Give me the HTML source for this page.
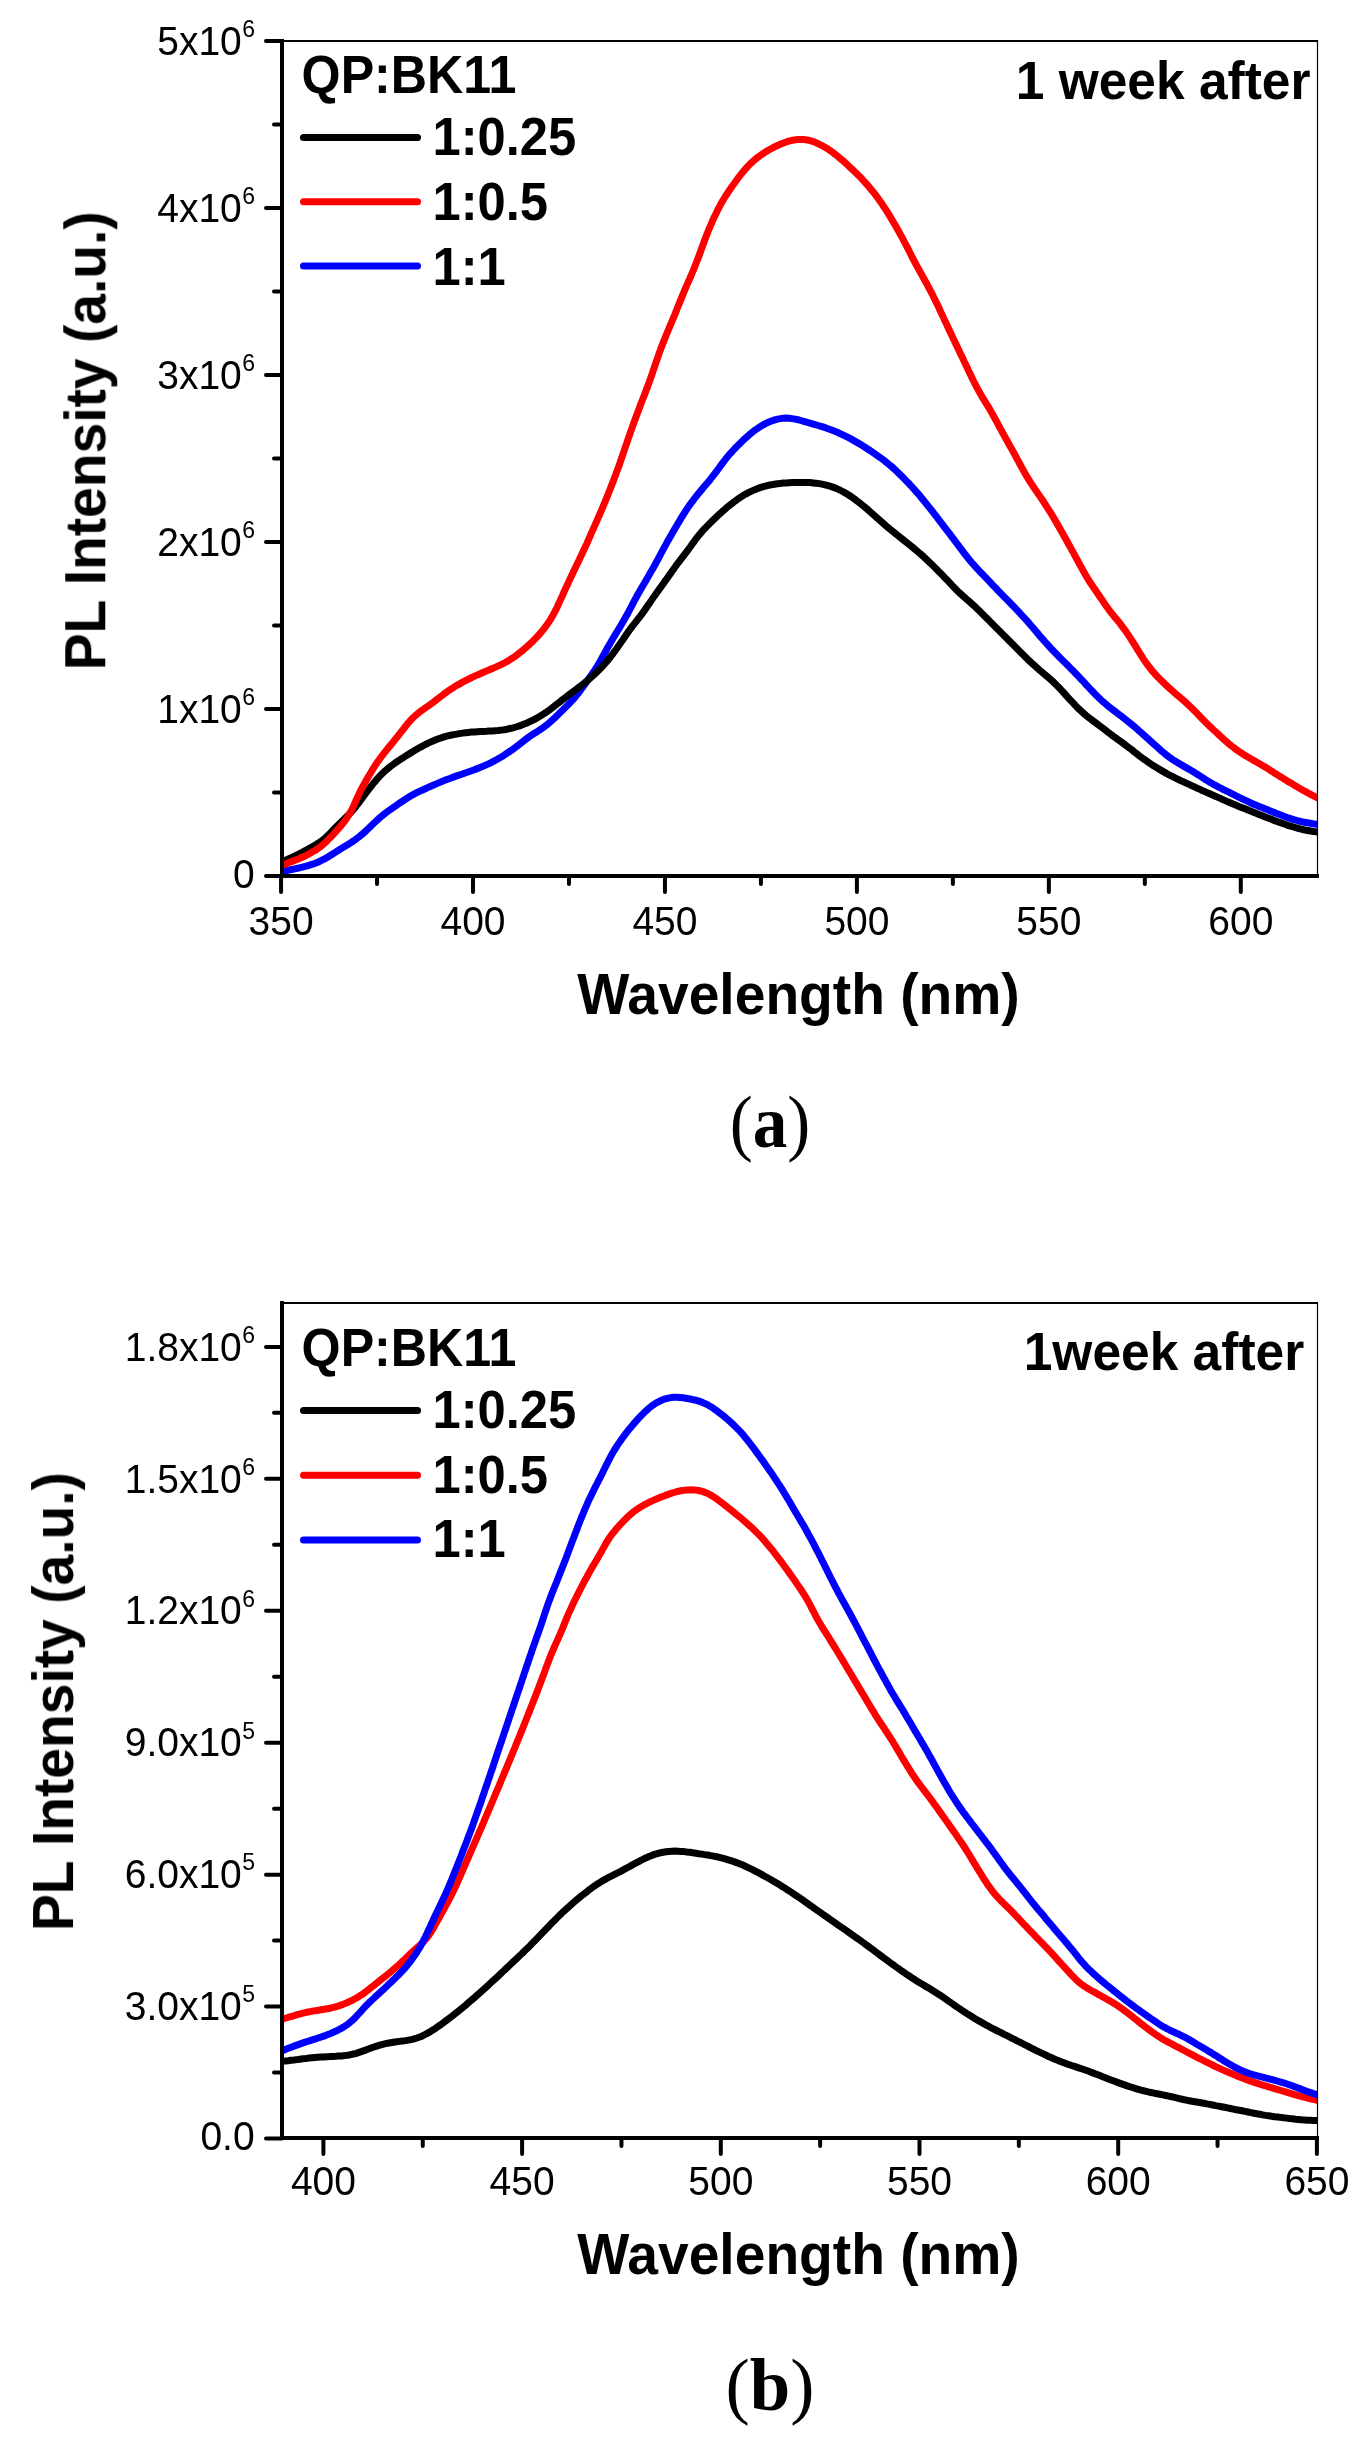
<!DOCTYPE html>
<html><head><meta charset="utf-8"><title>PL Intensity</title>
<style>html,body{margin:0;padding:0;background:#fff;}svg{display:block;}</style></head>
<body><svg width="1369" height="2453" viewBox="0 0 1369 2453">
<defs><filter id="gs" filterUnits="userSpaceOnUse" x="0" y="0" width="1369" height="2453" color-interpolation-filters="sRGB"><feColorMatrix type="saturate" values="0"/></filter></defs>
<rect width="1369" height="2453" fill="#fff"/>
<clipPath id="clipA"><rect x="282" y="41" width="1035.5" height="835"/></clipPath>
<clipPath id="clipB"><rect x="282" y="1303" width="1035.5" height="835"/></clipPath>
<g clip-path="url(#clipA)">
<path d="M282.0,871.8 L284.9,871.1 L287.8,870.4 L290.7,869.7 L293.6,869.1 L296.5,868.5 L299.4,867.8 L302.3,867.1 L305.2,866.4 L308.1,865.6 L311.0,864.7 L313.8,863.8 L316.6,862.7 L319.3,861.5 L322.0,860.2 L324.6,858.8 L327.2,857.4 L329.8,855.8 L332.3,854.2 L334.8,852.6 L337.4,851.0 L339.9,849.4 L342.5,847.8 L345.0,846.3 L347.6,844.7 L350.1,843.1 L352.6,841.5 L355.1,839.8 L357.5,838.0 L359.8,836.2 L362.1,834.3 L364.3,832.3 L366.5,830.3 L368.7,828.2 L370.9,826.1 L373.0,824.0 L375.2,822.0 L377.4,819.9 L379.6,817.9 L381.9,816.0 L384.2,814.1 L386.6,812.3 L389.0,810.5 L391.4,808.8 L393.9,807.1 L396.4,805.4 L398.8,803.7 L401.3,802.0 L403.8,800.3 L406.3,798.7 L408.9,797.1 L411.4,795.6 L414.0,794.1 L416.7,792.7 L419.4,791.4 L422.1,790.2 L424.8,789.0 L427.6,787.7 L430.3,786.5 L433.1,785.3 L435.8,784.1 L438.6,782.9 L441.3,781.8 L444.1,780.6 L446.9,779.5 L449.7,778.5 L452.5,777.4 L455.3,776.4 L458.2,775.4 L461.0,774.5 L463.8,773.5 L466.7,772.5 L469.5,771.5 L472.3,770.5 L475.1,769.4 L477.9,768.4 L480.7,767.2 L483.5,766.1 L486.2,764.9 L489.0,763.6 L491.6,762.3 L494.3,760.9 L496.9,759.5 L499.5,758.0 L502.1,756.5 L504.6,754.9 L507.1,753.2 L509.6,751.5 L512.1,749.8 L514.5,748.1 L516.9,746.2 L519.2,744.4 L521.6,742.6 L523.9,740.7 L526.3,738.9 L528.7,737.1 L531.2,735.4 L533.7,733.8 L536.2,732.2 L538.7,730.6 L541.2,729.0 L543.6,727.3 L546.0,725.5 L548.3,723.6 L550.6,721.6 L552.8,719.6 L555.0,717.6 L557.2,715.5 L559.3,713.4 L561.5,711.3 L563.6,709.2 L565.7,707.1 L567.8,705.0 L569.9,702.8 L572.0,700.6 L574.0,698.4 L575.9,696.1 L577.8,693.8 L579.6,691.4 L581.4,689.0 L583.2,686.6 L584.9,684.2 L586.7,681.7 L588.4,679.3 L590.1,676.8 L591.9,674.4 L593.5,671.9 L595.2,669.4 L596.8,666.9 L598.4,664.3 L599.9,661.7 L601.4,659.1 L602.8,656.5 L604.2,653.9 L605.7,651.2 L607.1,648.6 L608.6,646.0 L610.1,643.4 L611.6,640.8 L613.1,638.2 L614.7,635.7 L616.2,633.1 L617.8,630.5 L619.4,628.0 L620.9,625.4 L622.4,622.8 L623.9,620.2 L625.4,617.6 L626.9,615.0 L628.3,612.4 L629.7,609.7 L631.1,607.1 L632.5,604.4 L633.9,601.7 L635.3,599.1 L636.7,596.5 L638.2,593.8 L639.7,591.2 L641.2,588.6 L642.7,586.0 L644.2,583.5 L645.7,580.9 L647.2,578.3 L648.7,575.7 L650.2,573.1 L651.7,570.5 L653.2,567.9 L654.7,565.3 L656.1,562.6 L657.6,560.0 L659.0,557.4 L660.4,554.7 L661.8,552.1 L663.2,549.4 L664.6,546.8 L666.1,544.1 L667.5,541.5 L669.0,538.9 L670.5,536.3 L672.0,533.7 L673.5,531.1 L675.0,528.5 L676.5,525.9 L678.0,523.4 L679.6,520.8 L681.1,518.2 L682.7,515.6 L684.3,513.1 L685.9,510.6 L687.5,508.1 L689.2,505.6 L691.0,503.2 L692.8,500.8 L694.6,498.4 L696.5,496.0 L698.3,493.7 L700.2,491.4 L702.2,489.1 L704.1,486.8 L706.0,484.5 L708.0,482.2 L709.9,479.9 L711.7,477.5 L713.6,475.2 L715.4,472.8 L717.2,470.4 L719.0,468.0 L720.7,465.6 L722.5,463.2 L724.3,460.8 L726.2,458.4 L728.1,456.1 L730.0,453.8 L732.0,451.6 L734.1,449.4 L736.1,447.2 L738.2,445.1 L740.4,443.0 L742.5,440.9 L744.7,438.8 L746.9,436.8 L749.2,434.8 L751.5,432.9 L753.8,431.1 L756.2,429.3 L758.7,427.6 L761.2,426.0 L763.8,424.5 L766.4,423.2 L769.1,421.9 L771.9,420.8 L774.7,419.9 L777.5,419.1 L780.4,418.6 L783.4,418.2 L786.3,418.1 L789.2,418.2 L792.2,418.6 L795.1,419.1 L798.0,419.7 L800.8,420.5 L803.7,421.3 L806.6,422.2 L809.5,423.0 L812.3,423.9 L815.2,424.7 L818.1,425.5 L821.0,426.3 L823.8,427.2 L826.7,428.2 L829.5,429.2 L832.3,430.2 L835.1,431.4 L837.8,432.5 L840.6,433.8 L843.3,435.1 L846.0,436.4 L848.6,437.7 L851.3,439.1 L853.9,440.6 L856.5,442.1 L859.1,443.6 L861.7,445.1 L864.2,446.7 L866.7,448.3 L869.2,450.0 L871.7,451.7 L874.2,453.4 L876.7,455.1 L879.1,456.8 L881.5,458.5 L883.9,460.3 L886.3,462.2 L888.6,464.1 L890.9,466.0 L893.2,468.0 L895.4,470.0 L897.5,472.1 L899.7,474.2 L901.8,476.3 L903.9,478.4 L906.0,480.6 L908.1,482.7 L910.1,484.9 L912.2,487.1 L914.2,489.3 L916.2,491.6 L918.2,493.8 L920.1,496.1 L922.0,498.4 L923.9,500.7 L925.8,503.1 L927.7,505.4 L929.6,507.8 L931.4,510.1 L933.3,512.5 L935.1,514.9 L936.9,517.2 L938.7,519.6 L940.6,522.0 L942.4,524.4 L944.2,526.8 L946.0,529.2 L947.9,531.5 L949.7,533.9 L951.5,536.3 L953.3,538.7 L955.1,541.1 L956.9,543.5 L958.7,545.9 L960.5,548.3 L962.3,550.7 L964.1,553.1 L966.0,555.5 L967.8,557.8 L969.7,560.2 L971.6,562.5 L973.6,564.7 L975.6,566.9 L977.6,569.1 L979.7,571.3 L981.8,573.5 L983.8,575.6 L985.9,577.8 L988.0,579.9 L990.1,582.1 L992.1,584.3 L994.2,586.5 L996.3,588.6 L998.3,590.8 L1000.4,593.0 L1002.5,595.1 L1004.6,597.3 L1006.7,599.4 L1008.8,601.5 L1010.9,603.7 L1013.0,605.8 L1015.1,608.0 L1017.1,610.2 L1019.2,612.4 L1021.2,614.6 L1023.3,616.8 L1025.3,619.0 L1027.3,621.2 L1029.3,623.5 L1031.2,625.7 L1033.2,628.0 L1035.1,630.3 L1037.1,632.6 L1039.0,634.9 L1040.9,637.2 L1042.9,639.4 L1044.9,641.7 L1046.9,643.9 L1048.9,646.1 L1050.9,648.3 L1053.0,650.5 L1055.1,652.7 L1057.2,654.8 L1059.3,657.0 L1061.4,659.1 L1063.5,661.2 L1065.6,663.3 L1067.8,665.4 L1069.9,667.6 L1072.0,669.7 L1074.1,671.8 L1076.2,674.0 L1078.3,676.1 L1080.3,678.3 L1082.4,680.5 L1084.4,682.7 L1086.4,685.0 L1088.5,687.2 L1090.5,689.3 L1092.6,691.5 L1094.7,693.7 L1096.8,695.8 L1098.9,697.9 L1101.1,700.0 L1103.3,702.0 L1105.6,703.9 L1107.9,705.9 L1110.2,707.7 L1112.6,709.6 L1115.0,711.4 L1117.4,713.2 L1119.7,715.0 L1122.1,716.8 L1124.5,718.7 L1126.8,720.5 L1129.2,722.4 L1131.5,724.3 L1133.8,726.2 L1136.1,728.2 L1138.3,730.2 L1140.6,732.1 L1142.8,734.1 L1145.0,736.1 L1147.3,738.2 L1149.5,740.2 L1151.7,742.2 L1153.9,744.2 L1156.2,746.2 L1158.4,748.2 L1160.6,750.2 L1162.9,752.1 L1165.2,754.0 L1167.6,755.9 L1170.0,757.7 L1172.4,759.4 L1174.9,761.0 L1177.5,762.6 L1180.1,764.1 L1182.7,765.6 L1185.3,767.1 L1187.9,768.6 L1190.4,770.1 L1193.0,771.6 L1195.6,773.2 L1198.1,774.8 L1200.6,776.4 L1203.1,778.0 L1205.7,779.7 L1208.2,781.2 L1210.8,782.8 L1213.4,784.3 L1216.0,785.7 L1218.6,787.1 L1221.3,788.4 L1224.0,789.8 L1226.7,791.1 L1229.4,792.4 L1232.1,793.8 L1234.7,795.1 L1237.4,796.5 L1240.1,797.8 L1242.8,799.1 L1245.5,800.4 L1248.2,801.7 L1250.9,803.0 L1253.7,804.2 L1256.4,805.3 L1259.2,806.5 L1262.0,807.6 L1264.8,808.7 L1267.6,809.8 L1270.3,810.9 L1273.1,812.0 L1275.9,813.2 L1278.7,814.3 L1281.5,815.3 L1284.3,816.4 L1287.1,817.5 L1289.9,818.4 L1292.8,819.4 L1295.7,820.2 L1298.5,821.0 L1301.5,821.7 L1304.4,822.3 L1307.3,822.8 L1310.3,823.3 L1313.2,823.8 L1316.1,824.2 L1319.0,824.6 L1320.0,824.7" fill="none" stroke="#0000ff" stroke-width="7" stroke-linejoin="round"/>
<path d="M282.0,862.0 L284.7,860.7 L287.4,859.4 L290.1,858.1 L292.8,856.9 L295.5,855.6 L298.2,854.3 L300.9,853.0 L303.5,851.6 L306.2,850.2 L308.8,848.7 L311.4,847.3 L314.0,845.8 L316.5,844.3 L319.0,842.7 L321.4,841.1 L323.7,839.3 L325.9,837.4 L328.0,835.4 L330.1,833.3 L332.1,831.2 L334.2,829.0 L336.2,826.9 L338.4,824.7 L340.5,822.7 L342.7,820.6 L344.8,818.5 L347.0,816.4 L349.0,814.3 L351.1,812.1 L353.1,809.8 L355.0,807.5 L356.8,805.2 L358.7,802.8 L360.5,800.4 L362.3,798.0 L364.0,795.6 L365.8,793.2 L367.6,790.8 L369.5,788.4 L371.3,786.1 L373.2,783.7 L375.1,781.4 L377.0,779.1 L379.0,776.9 L381.1,774.7 L383.2,772.6 L385.4,770.6 L387.7,768.7 L390.0,766.8 L392.4,765.0 L394.8,763.2 L397.3,761.5 L399.8,759.9 L402.3,758.2 L404.8,756.6 L407.3,755.0 L409.9,753.4 L412.5,751.9 L415.0,750.3 L417.6,748.8 L420.2,747.3 L422.8,745.9 L425.5,744.5 L428.2,743.2 L430.9,741.9 L433.6,740.7 L436.4,739.6 L439.2,738.5 L442.0,737.6 L444.9,736.7 L447.8,735.9 L450.7,735.2 L453.6,734.6 L456.6,734.1 L459.5,733.6 L462.5,733.1 L465.5,732.7 L468.4,732.4 L471.4,732.1 L474.4,731.9 L477.4,731.7 L480.4,731.5 L483.4,731.4 L486.4,731.3 L489.4,731.1 L492.4,731.0 L495.4,730.7 L498.3,730.5 L501.3,730.1 L504.3,729.7 L507.2,729.2 L510.1,728.5 L513.0,727.8 L515.9,727.0 L518.8,726.1 L521.6,725.1 L524.4,724.0 L527.1,722.9 L529.8,721.6 L532.5,720.3 L535.2,719.0 L537.8,717.5 L540.4,716.0 L542.9,714.4 L545.4,712.8 L547.9,711.0 L550.3,709.3 L552.7,707.5 L555.0,705.6 L557.4,703.8 L559.8,701.9 L562.1,700.1 L564.5,698.2 L566.9,696.4 L569.2,694.6 L571.6,692.8 L574.0,691.0 L576.4,689.2 L578.8,687.4 L581.2,685.6 L583.6,683.7 L585.9,681.8 L588.2,679.9 L590.5,677.9 L592.7,675.9 L594.9,673.9 L597.1,671.8 L599.2,669.7 L601.3,667.6 L603.3,665.4 L605.3,663.2 L607.3,660.9 L609.2,658.6 L611.0,656.2 L612.8,653.8 L614.6,651.4 L616.4,649.0 L618.1,646.6 L619.8,644.1 L621.5,641.6 L623.2,639.2 L624.9,636.7 L626.6,634.2 L628.3,631.8 L630.1,629.3 L631.9,626.9 L633.7,624.6 L635.6,622.2 L637.4,619.8 L639.3,617.5 L641.1,615.1 L642.9,612.7 L644.6,610.3 L646.3,607.8 L648.0,605.3 L649.7,602.9 L651.4,600.4 L653.1,597.9 L654.8,595.5 L656.6,593.0 L658.3,590.6 L660.1,588.1 L661.8,585.7 L663.6,583.3 L665.3,580.8 L667.0,578.4 L668.8,575.9 L670.5,573.5 L672.2,571.0 L674.0,568.6 L675.7,566.1 L677.5,563.7 L679.3,561.3 L681.1,558.9 L683.0,556.6 L684.8,554.2 L686.6,551.8 L688.4,549.4 L690.2,547.0 L691.9,544.6 L693.7,542.1 L695.4,539.7 L697.2,537.3 L699.1,535.0 L701.0,532.7 L702.9,530.4 L705.0,528.3 L707.1,526.1 L709.2,524.0 L711.3,521.9 L713.5,519.8 L715.6,517.7 L717.8,515.6 L720.0,513.6 L722.2,511.6 L724.5,509.6 L726.7,507.6 L729.0,505.7 L731.4,503.9 L733.8,502.0 L736.2,500.3 L738.6,498.5 L741.1,496.9 L743.6,495.3 L746.2,493.8 L748.9,492.4 L751.6,491.1 L754.3,489.9 L757.1,488.8 L759.9,487.7 L762.7,486.8 L765.6,486.0 L768.5,485.3 L771.4,484.7 L774.3,484.2 L777.3,483.7 L780.3,483.4 L783.3,483.1 L786.2,482.9 L789.2,482.7 L792.2,482.6 L795.2,482.5 L798.2,482.5 L801.2,482.4 L804.2,482.5 L807.2,482.5 L810.2,482.6 L813.2,482.9 L816.1,483.2 L819.1,483.6 L822.0,484.1 L824.9,484.8 L827.8,485.5 L830.7,486.4 L833.5,487.4 L836.3,488.4 L839.0,489.6 L841.7,491.0 L844.3,492.4 L846.9,493.9 L849.4,495.5 L851.9,497.2 L854.3,498.9 L856.7,500.7 L859.1,502.5 L861.4,504.4 L863.8,506.3 L866.1,508.2 L868.3,510.2 L870.6,512.2 L872.8,514.1 L875.1,516.1 L877.3,518.1 L879.6,520.1 L881.8,522.1 L884.1,524.1 L886.3,526.1 L888.6,528.0 L890.9,529.9 L893.3,531.8 L895.6,533.7 L897.9,535.5 L900.3,537.4 L902.6,539.3 L905.0,541.2 L907.3,543.0 L909.7,544.9 L912.0,546.8 L914.3,548.7 L916.6,550.6 L918.9,552.6 L921.1,554.5 L923.4,556.5 L925.6,558.6 L927.8,560.6 L929.9,562.7 L932.1,564.8 L934.2,566.9 L936.3,569.0 L938.4,571.2 L940.6,573.3 L942.7,575.4 L944.7,577.6 L946.8,579.7 L948.9,581.9 L950.9,584.1 L953.0,586.3 L955.1,588.5 L957.2,590.6 L959.3,592.7 L961.5,594.7 L963.7,596.7 L966.0,598.7 L968.3,600.6 L970.5,602.6 L972.8,604.6 L975.0,606.6 L977.1,608.7 L979.3,610.8 L981.4,612.9 L983.5,615.0 L985.6,617.1 L987.8,619.2 L989.9,621.4 L992.0,623.5 L994.1,625.6 L996.2,627.7 L998.4,629.9 L1000.5,632.0 L1002.6,634.1 L1004.7,636.2 L1006.8,638.3 L1008.9,640.5 L1011.1,642.6 L1013.2,644.7 L1015.3,646.9 L1017.4,649.0 L1019.5,651.1 L1021.6,653.2 L1023.8,655.4 L1025.9,657.5 L1028.0,659.6 L1030.2,661.6 L1032.4,663.7 L1034.6,665.7 L1036.8,667.7 L1039.1,669.7 L1041.4,671.6 L1043.7,673.6 L1046.0,675.5 L1048.2,677.4 L1050.5,679.4 L1052.7,681.4 L1054.9,683.5 L1057.0,685.6 L1059.1,687.7 L1061.1,689.9 L1063.2,692.1 L1065.2,694.4 L1067.2,696.6 L1069.2,698.8 L1071.2,701.0 L1073.3,703.2 L1075.3,705.4 L1077.4,707.5 L1079.6,709.6 L1081.8,711.6 L1084.0,713.6 L1086.3,715.6 L1088.6,717.5 L1091.0,719.3 L1093.4,721.1 L1095.8,722.9 L1098.2,724.7 L1100.6,726.5 L1103.0,728.3 L1105.3,730.1 L1107.7,732.0 L1110.1,733.8 L1112.5,735.6 L1114.9,737.3 L1117.3,739.1 L1119.8,740.8 L1122.2,742.6 L1124.6,744.4 L1127.0,746.2 L1129.4,748.0 L1131.8,749.8 L1134.1,751.7 L1136.5,753.5 L1138.9,755.4 L1141.2,757.2 L1143.6,759.0 L1146.1,760.7 L1148.5,762.4 L1151.0,764.1 L1153.5,765.7 L1156.1,767.3 L1158.6,768.9 L1161.2,770.4 L1163.8,771.9 L1166.4,773.4 L1169.1,774.8 L1171.7,776.2 L1174.4,777.5 L1177.1,778.9 L1179.8,780.2 L1182.5,781.4 L1185.2,782.7 L1188.0,783.9 L1190.7,785.2 L1193.4,786.4 L1196.1,787.7 L1198.9,788.9 L1201.6,790.2 L1204.3,791.4 L1207.1,792.6 L1209.8,793.8 L1212.6,795.0 L1215.3,796.2 L1218.0,797.4 L1220.8,798.6 L1223.5,799.9 L1226.3,801.1 L1229.0,802.3 L1231.8,803.5 L1234.5,804.6 L1237.3,805.8 L1240.1,806.9 L1242.9,808.0 L1245.7,809.1 L1248.5,810.2 L1251.2,811.3 L1254.0,812.4 L1256.8,813.5 L1259.6,814.7 L1262.4,815.8 L1265.2,816.9 L1268.0,818.0 L1270.8,819.1 L1273.5,820.2 L1276.3,821.3 L1279.2,822.3 L1282.0,823.3 L1284.8,824.3 L1287.6,825.3 L1290.5,826.2 L1293.4,827.0 L1296.3,827.8 L1299.1,828.6 L1302.0,829.3 L1304.9,830.0 L1307.8,830.5 L1310.7,831.0 L1313.5,831.5 L1316.3,831.9 L1319.1,832.3 L1320.0,832.4" fill="none" stroke="#000000" stroke-width="7" stroke-linejoin="round"/>
<path d="M282.0,865.5 L284.7,864.3 L287.4,863.2 L290.2,862.1 L292.9,861.1 L295.7,860.0 L298.5,858.9 L301.2,857.7 L303.9,856.5 L306.6,855.2 L309.3,853.8 L311.9,852.3 L314.5,850.8 L317.0,849.2 L319.4,847.5 L321.7,845.7 L324.0,843.7 L326.1,841.7 L328.2,839.6 L330.3,837.5 L332.4,835.3 L334.4,833.1 L336.4,830.9 L338.4,828.6 L340.4,826.4 L342.3,824.1 L344.2,821.8 L345.9,819.4 L347.6,816.9 L349.2,814.4 L350.7,811.8 L352.1,809.1 L353.4,806.4 L354.6,803.7 L355.8,801.0 L357.0,798.2 L358.3,795.5 L359.5,792.8 L360.9,790.1 L362.3,787.5 L363.7,784.9 L365.2,782.2 L366.7,779.6 L368.2,777.0 L369.7,774.5 L371.2,771.9 L372.7,769.3 L374.3,766.8 L376.0,764.3 L377.7,761.8 L379.4,759.4 L381.2,757.0 L383.0,754.6 L384.9,752.2 L386.7,749.9 L388.6,747.5 L390.5,745.2 L392.4,742.9 L394.3,740.6 L396.2,738.2 L398.1,735.9 L399.9,733.5 L401.7,731.2 L403.6,728.8 L405.4,726.4 L407.3,724.1 L409.2,721.8 L411.2,719.6 L413.3,717.5 L415.5,715.5 L417.7,713.6 L420.1,711.7 L422.5,710.0 L425.0,708.2 L427.4,706.5 L429.8,704.8 L432.3,703.0 L434.6,701.2 L437.0,699.4 L439.4,697.5 L441.8,695.7 L444.2,693.9 L446.6,692.1 L449.0,690.4 L451.5,688.8 L454.1,687.1 L456.6,685.6 L459.2,684.1 L461.8,682.6 L464.5,681.2 L467.1,679.8 L469.8,678.5 L472.5,677.2 L475.2,675.9 L478.0,674.7 L480.7,673.5 L483.4,672.3 L486.2,671.1 L489.0,670.0 L491.7,668.8 L494.5,667.6 L497.2,666.4 L499.9,665.2 L502.6,663.9 L505.3,662.5 L507.9,661.0 L510.4,659.4 L512.9,657.8 L515.4,656.1 L517.8,654.3 L520.1,652.4 L522.5,650.6 L524.7,648.6 L527.0,646.6 L529.2,644.6 L531.4,642.6 L533.5,640.5 L535.6,638.3 L537.7,636.2 L539.7,633.9 L541.6,631.7 L543.5,629.3 L545.3,627.0 L547.1,624.5 L548.8,622.1 L550.4,619.6 L551.9,617.0 L553.4,614.4 L554.8,611.7 L556.2,609.1 L557.5,606.4 L558.7,603.7 L560.0,600.9 L561.2,598.2 L562.5,595.5 L563.7,592.7 L564.9,590.0 L566.2,587.3 L567.5,584.6 L568.7,581.8 L570.0,579.1 L571.2,576.4 L572.5,573.7 L573.8,571.0 L575.1,568.3 L576.4,565.6 L577.7,562.9 L579.0,560.2 L580.3,557.5 L581.6,554.8 L582.9,552.1 L584.2,549.3 L585.4,546.6 L586.7,543.9 L587.9,541.1 L589.1,538.4 L590.3,535.6 L591.5,532.9 L592.7,530.2 L594.0,527.4 L595.2,524.7 L596.4,521.9 L597.6,519.2 L598.8,516.4 L600.0,513.7 L601.2,510.9 L602.4,508.2 L603.5,505.4 L604.7,502.6 L605.8,499.9 L607.0,497.1 L608.1,494.3 L609.2,491.5 L610.3,488.7 L611.4,485.9 L612.5,483.1 L613.6,480.3 L614.6,477.5 L615.7,474.7 L616.7,471.9 L617.7,469.1 L618.8,466.3 L619.8,463.4 L620.7,460.6 L621.7,457.8 L622.7,454.9 L623.7,452.1 L624.6,449.3 L625.6,446.4 L626.6,443.6 L627.5,440.7 L628.5,437.9 L629.5,435.1 L630.5,432.2 L631.5,429.4 L632.5,426.6 L633.5,423.8 L634.5,420.9 L635.6,418.1 L636.6,415.3 L637.7,412.5 L638.7,409.7 L639.8,406.9 L640.8,404.1 L641.9,401.3 L643.0,398.5 L644.1,395.7 L645.2,392.9 L646.2,390.1 L647.3,387.3 L648.3,384.5 L649.4,381.7 L650.4,378.8 L651.4,376.0 L652.4,373.2 L653.3,370.3 L654.3,367.5 L655.3,364.6 L656.2,361.8 L657.2,359.0 L658.2,356.1 L659.1,353.3 L660.2,350.5 L661.2,347.7 L662.3,344.9 L663.4,342.1 L664.5,339.3 L665.6,336.5 L666.8,333.7 L667.9,331.0 L669.1,328.2 L670.3,325.4 L671.4,322.7 L672.6,319.9 L673.7,317.1 L674.9,314.4 L676.0,311.6 L677.1,308.8 L678.2,306.0 L679.4,303.2 L680.5,300.4 L681.6,297.7 L682.7,294.9 L683.9,292.1 L685.0,289.4 L686.2,286.6 L687.4,283.9 L688.6,281.1 L689.9,278.4 L691.0,275.6 L692.2,272.9 L693.4,270.1 L694.5,267.3 L695.6,264.5 L696.7,261.7 L697.8,258.9 L698.9,256.1 L699.9,253.3 L700.9,250.5 L701.9,247.7 L703.0,244.9 L704.0,242.0 L705.0,239.2 L706.1,236.4 L707.2,233.6 L708.3,230.8 L709.4,228.1 L710.6,225.3 L711.8,222.6 L713.0,219.8 L714.3,217.1 L715.6,214.4 L716.9,211.7 L718.2,209.0 L719.6,206.4 L721.0,203.7 L722.5,201.1 L724.1,198.5 L725.6,196.0 L727.3,193.5 L728.9,191.0 L730.6,188.5 L732.3,186.0 L734.1,183.6 L735.8,181.2 L737.6,178.7 L739.4,176.4 L741.2,174.0 L743.1,171.7 L745.1,169.4 L747.1,167.2 L749.1,165.0 L751.3,162.9 L753.5,160.9 L755.7,158.9 L758.1,157.1 L760.5,155.3 L762.9,153.6 L765.4,152.0 L768.0,150.4 L770.6,149.0 L773.2,147.6 L775.9,146.2 L778.6,145.0 L781.4,143.8 L784.2,142.7 L787.0,141.7 L789.8,140.9 L792.7,140.2 L795.6,139.7 L798.5,139.4 L801.5,139.4 L804.4,139.6 L807.3,140.0 L810.1,140.6 L812.9,141.5 L815.7,142.6 L818.4,143.8 L821.1,145.1 L823.7,146.5 L826.3,148.0 L828.8,149.6 L831.3,151.3 L833.7,153.1 L836.0,154.9 L838.3,156.8 L840.6,158.8 L842.9,160.7 L845.1,162.7 L847.3,164.7 L849.5,166.8 L851.7,168.8 L853.9,170.9 L856.0,173.0 L858.2,175.1 L860.3,177.2 L862.3,179.4 L864.4,181.6 L866.4,183.8 L868.4,186.1 L870.3,188.4 L872.2,190.7 L874.1,193.0 L875.9,195.4 L877.7,197.8 L879.4,200.2 L881.2,202.7 L882.8,205.2 L884.5,207.7 L886.1,210.2 L887.7,212.7 L889.3,215.3 L890.8,217.9 L892.4,220.4 L893.9,223.0 L895.4,225.6 L896.9,228.2 L898.4,230.8 L899.8,233.4 L901.3,236.1 L902.7,238.7 L904.1,241.3 L905.5,244.0 L906.9,246.7 L908.3,249.3 L909.6,252.0 L911.0,254.7 L912.3,257.4 L913.7,260.0 L915.1,262.7 L916.5,265.3 L918.0,268.0 L919.4,270.6 L920.9,273.2 L922.3,275.8 L923.8,278.5 L925.2,281.1 L926.7,283.7 L928.1,286.4 L929.5,289.0 L930.9,291.7 L932.3,294.3 L933.6,297.0 L935.0,299.7 L936.3,302.4 L937.6,305.1 L938.9,307.8 L940.1,310.5 L941.4,313.2 L942.7,316.0 L943.9,318.7 L945.2,321.4 L946.5,324.1 L947.7,326.8 L949.0,329.5 L950.3,332.3 L951.6,335.0 L952.9,337.7 L954.2,340.4 L955.4,343.1 L956.7,345.8 L958.0,348.5 L959.3,351.2 L960.6,353.9 L961.9,356.6 L963.2,359.3 L964.5,362.1 L965.8,364.8 L967.1,367.5 L968.3,370.2 L969.6,372.9 L970.9,375.6 L972.2,378.3 L973.5,381.0 L974.9,383.7 L976.3,386.3 L977.7,389.0 L979.1,391.6 L980.6,394.2 L982.1,396.8 L983.7,399.4 L985.2,401.9 L986.8,404.5 L988.4,407.0 L989.9,409.6 L991.4,412.2 L992.9,414.8 L994.3,417.5 L995.8,420.1 L997.2,422.7 L998.6,425.4 L1000.0,428.0 L1001.5,430.6 L1002.9,433.3 L1004.4,435.9 L1005.8,438.5 L1007.3,441.1 L1008.7,443.8 L1010.2,446.4 L1011.7,449.0 L1013.1,451.6 L1014.6,454.2 L1016.0,456.9 L1017.4,459.5 L1018.9,462.1 L1020.3,464.8 L1021.7,467.4 L1023.2,470.0 L1024.6,472.7 L1026.1,475.3 L1027.7,477.8 L1029.2,480.4 L1030.8,482.9 L1032.5,485.4 L1034.1,487.9 L1035.8,490.4 L1037.5,492.9 L1039.2,495.4 L1040.9,497.8 L1042.6,500.3 L1044.3,502.8 L1045.9,505.3 L1047.5,507.8 L1049.1,510.4 L1050.7,512.9 L1052.3,515.5 L1053.8,518.1 L1055.3,520.6 L1056.8,523.2 L1058.3,525.8 L1059.8,528.5 L1061.3,531.1 L1062.8,533.7 L1064.2,536.3 L1065.7,538.9 L1067.1,541.5 L1068.6,544.2 L1070.1,546.8 L1071.5,549.4 L1073.0,552.0 L1074.4,554.7 L1075.8,557.3 L1077.3,559.9 L1078.7,562.6 L1080.1,565.2 L1081.6,567.8 L1083.0,570.5 L1084.5,573.1 L1086.0,575.7 L1087.5,578.2 L1089.1,580.8 L1090.7,583.3 L1092.4,585.8 L1094.1,588.3 L1095.8,590.8 L1097.5,593.2 L1099.2,595.7 L1100.9,598.2 L1102.6,600.6 L1104.2,603.1 L1105.9,605.6 L1107.7,608.0 L1109.4,610.4 L1111.3,612.8 L1113.1,615.1 L1115.0,617.4 L1117.0,619.7 L1118.9,622.0 L1120.7,624.4 L1122.5,626.8 L1124.3,629.2 L1126.0,631.6 L1127.7,634.1 L1129.4,636.6 L1131.0,639.1 L1132.6,641.6 L1134.2,644.2 L1135.8,646.7 L1137.4,649.3 L1138.9,651.8 L1140.5,654.4 L1142.1,656.9 L1143.7,659.4 L1145.4,661.9 L1147.2,664.3 L1149.0,666.7 L1150.8,669.1 L1152.7,671.4 L1154.7,673.6 L1156.7,675.9 L1158.8,678.0 L1160.9,680.1 L1163.1,682.2 L1165.2,684.3 L1167.4,686.3 L1169.6,688.4 L1171.8,690.4 L1174.1,692.4 L1176.3,694.3 L1178.6,696.2 L1180.9,698.2 L1183.2,700.1 L1185.4,702.1 L1187.6,704.1 L1189.8,706.2 L1191.9,708.3 L1194.1,710.4 L1196.2,712.5 L1198.2,714.7 L1200.3,716.8 L1202.4,719.0 L1204.5,721.1 L1206.6,723.3 L1208.7,725.4 L1210.9,727.4 L1213.1,729.5 L1215.3,731.5 L1217.5,733.5 L1219.7,735.6 L1221.9,737.6 L1224.1,739.6 L1226.4,741.6 L1228.6,743.6 L1230.9,745.5 L1233.3,747.3 L1235.7,749.1 L1238.1,750.9 L1240.6,752.5 L1243.1,754.2 L1245.6,755.8 L1248.2,757.3 L1250.8,758.8 L1253.4,760.3 L1256.0,761.7 L1258.6,763.2 L1261.2,764.7 L1263.8,766.2 L1266.4,767.8 L1268.9,769.4 L1271.4,771.0 L1273.9,772.7 L1276.5,774.3 L1279.0,775.9 L1281.6,777.4 L1284.1,779.0 L1286.7,780.6 L1289.3,782.1 L1291.8,783.6 L1294.4,785.2 L1297.0,786.7 L1299.6,788.2 L1302.1,789.7 L1304.7,791.2 L1307.3,792.6 L1309.9,794.0 L1312.5,795.3 L1315.0,796.6 L1317.5,797.8 L1320.0,799.0 L1320.0,799.0" fill="none" stroke="#ff0000" stroke-width="7" stroke-linejoin="round"/>
</g>
<line x1="282" y1="41" x2="1317.5" y2="41" stroke="#000" stroke-width="2"/>
<line x1="1317.5" y1="40" x2="1317.5" y2="876" stroke="#000" stroke-width="1.2"/>
<line x1="282" y1="39" x2="282" y2="878" stroke="#000" stroke-width="4"/>
<line x1="280" y1="876" x2="1319.0" y2="876" stroke="#000" stroke-width="4"/>
<line x1="266" y1="876.00" x2="282" y2="876.00" stroke="#000" stroke-width="4" stroke-linecap="round"/>
<line x1="266" y1="709.00" x2="282" y2="709.00" stroke="#000" stroke-width="4" stroke-linecap="round"/>
<line x1="266" y1="542.00" x2="282" y2="542.00" stroke="#000" stroke-width="4" stroke-linecap="round"/>
<line x1="266" y1="375.00" x2="282" y2="375.00" stroke="#000" stroke-width="4" stroke-linecap="round"/>
<line x1="266" y1="208.00" x2="282" y2="208.00" stroke="#000" stroke-width="4" stroke-linecap="round"/>
<line x1="266" y1="41.00" x2="282" y2="41.00" stroke="#000" stroke-width="4" stroke-linecap="round"/>
<line x1="274" y1="792.50" x2="282" y2="792.50" stroke="#000" stroke-width="4" stroke-linecap="round"/>
<line x1="274" y1="625.50" x2="282" y2="625.50" stroke="#000" stroke-width="4" stroke-linecap="round"/>
<line x1="274" y1="458.50" x2="282" y2="458.50" stroke="#000" stroke-width="4" stroke-linecap="round"/>
<line x1="274" y1="291.50" x2="282" y2="291.50" stroke="#000" stroke-width="4" stroke-linecap="round"/>
<line x1="274" y1="124.50" x2="282" y2="124.50" stroke="#000" stroke-width="4" stroke-linecap="round"/>
<line x1="281.05" y1="876" x2="281.05" y2="892" stroke="#000" stroke-width="4" stroke-linecap="round"/>
<line x1="473.00" y1="876" x2="473.00" y2="892" stroke="#000" stroke-width="4" stroke-linecap="round"/>
<line x1="664.95" y1="876" x2="664.95" y2="892" stroke="#000" stroke-width="4" stroke-linecap="round"/>
<line x1="856.90" y1="876" x2="856.90" y2="892" stroke="#000" stroke-width="4" stroke-linecap="round"/>
<line x1="1048.85" y1="876" x2="1048.85" y2="892" stroke="#000" stroke-width="4" stroke-linecap="round"/>
<line x1="1240.80" y1="876" x2="1240.80" y2="892" stroke="#000" stroke-width="4" stroke-linecap="round"/>
<line x1="377.02" y1="876" x2="377.02" y2="884" stroke="#000" stroke-width="4" stroke-linecap="round"/>
<line x1="568.98" y1="876" x2="568.98" y2="884" stroke="#000" stroke-width="4" stroke-linecap="round"/>
<line x1="760.92" y1="876" x2="760.92" y2="884" stroke="#000" stroke-width="4" stroke-linecap="round"/>
<line x1="952.88" y1="876" x2="952.88" y2="884" stroke="#000" stroke-width="4" stroke-linecap="round"/>
<line x1="1144.83" y1="876" x2="1144.83" y2="884" stroke="#000" stroke-width="4" stroke-linecap="round"/>
<line x1="303.5" y1="137.4" x2="417.5" y2="137.4" stroke="#000" stroke-width="7" stroke-linecap="round"/>
<line x1="303.5" y1="201.7" x2="417.5" y2="201.7" stroke="#ff0000" stroke-width="7" stroke-linecap="round"/>
<line x1="303.5" y1="266.0" x2="417.5" y2="266.0" stroke="#0000ff" stroke-width="7" stroke-linecap="round"/>
<g clip-path="url(#clipB)">
<path d="M282.0,2061.3 L285.0,2061.0 L288.0,2060.7 L290.9,2060.3 L293.9,2060.0 L296.9,2059.6 L299.9,2059.2 L302.8,2058.8 L305.8,2058.5 L308.8,2058.1 L311.8,2057.8 L314.8,2057.5 L317.8,2057.3 L320.8,2057.1 L323.7,2056.9 L326.7,2056.7 L329.7,2056.6 L332.7,2056.4 L335.7,2056.3 L338.7,2056.1 L341.7,2055.9 L344.6,2055.6 L347.6,2055.2 L350.5,2054.7 L353.4,2054.0 L356.3,2053.3 L359.1,2052.4 L362.0,2051.4 L364.8,2050.4 L367.6,2049.3 L370.4,2048.3 L373.2,2047.3 L376.0,2046.3 L378.9,2045.4 L381.8,2044.6 L384.7,2043.9 L387.6,2043.2 L390.5,2042.7 L393.5,2042.2 L396.4,2041.8 L399.4,2041.4 L402.4,2041.0 L405.4,2040.6 L408.3,2040.1 L411.2,2039.6 L414.1,2038.9 L416.9,2038.0 L419.7,2037.0 L422.4,2035.9 L425.1,2034.5 L427.7,2033.1 L430.3,2031.6 L432.8,2030.0 L435.4,2028.4 L437.8,2026.7 L440.3,2025.0 L442.7,2023.2 L445.1,2021.4 L447.5,2019.6 L449.9,2017.8 L452.3,2016.0 L454.6,2014.1 L457.0,2012.3 L459.3,2010.4 L461.7,2008.5 L464.0,2006.6 L466.3,2004.7 L468.5,2002.7 L470.8,2000.7 L473.1,1998.8 L475.3,1996.8 L477.5,1994.8 L479.8,1992.8 L482.0,1990.8 L484.3,1988.8 L486.5,1986.8 L488.7,1984.8 L490.9,1982.7 L493.2,1980.7 L495.4,1978.7 L497.6,1976.7 L499.7,1974.6 L501.9,1972.5 L504.1,1970.5 L506.3,1968.4 L508.5,1966.4 L510.6,1964.3 L512.8,1962.2 L515.0,1960.2 L517.2,1958.1 L519.3,1956.0 L521.5,1954.0 L523.7,1951.9 L525.8,1949.8 L528.0,1947.7 L530.1,1945.6 L532.2,1943.4 L534.3,1941.3 L536.4,1939.1 L538.5,1937.0 L540.5,1934.8 L542.6,1932.6 L544.7,1930.5 L546.8,1928.3 L548.9,1926.2 L550.9,1924.0 L553.0,1921.9 L555.2,1919.7 L557.3,1917.6 L559.4,1915.5 L561.6,1913.4 L563.7,1911.3 L565.9,1909.3 L568.1,1907.3 L570.4,1905.3 L572.6,1903.3 L574.9,1901.4 L577.2,1899.4 L579.5,1897.5 L581.9,1895.6 L584.2,1893.8 L586.6,1891.9 L588.9,1890.1 L591.3,1888.3 L593.7,1886.5 L596.2,1884.8 L598.7,1883.2 L601.2,1881.6 L603.8,1880.1 L606.4,1878.6 L609.1,1877.2 L611.8,1875.9 L614.4,1874.5 L617.1,1873.2 L619.8,1871.8 L622.4,1870.4 L625.1,1868.9 L627.7,1867.5 L630.3,1866.1 L632.9,1864.6 L635.6,1863.2 L638.2,1861.8 L640.9,1860.4 L643.6,1859.0 L646.3,1857.7 L649.0,1856.5 L651.7,1855.4 L654.6,1854.4 L657.4,1853.5 L660.3,1852.8 L663.2,1852.2 L666.1,1851.7 L669.1,1851.4 L672.1,1851.2 L675.0,1851.1 L678.0,1851.2 L681.0,1851.4 L684.0,1851.6 L687.0,1852.0 L689.9,1852.3 L692.9,1852.8 L695.9,1853.2 L698.8,1853.7 L701.8,1854.1 L704.7,1854.6 L707.7,1855.0 L710.7,1855.6 L713.6,1856.1 L716.5,1856.7 L719.4,1857.4 L722.3,1858.1 L725.2,1858.9 L728.1,1859.8 L731.0,1860.7 L733.8,1861.6 L736.6,1862.6 L739.4,1863.7 L742.2,1864.8 L744.9,1866.0 L747.7,1867.3 L750.4,1868.6 L753.0,1869.9 L755.7,1871.3 L758.4,1872.7 L761.0,1874.1 L763.6,1875.6 L766.2,1877.0 L768.9,1878.5 L771.5,1880.0 L774.0,1881.5 L776.6,1883.0 L779.2,1884.6 L781.8,1886.2 L784.3,1887.7 L786.8,1889.4 L789.4,1891.0 L791.9,1892.6 L794.3,1894.3 L796.8,1896.0 L799.3,1897.7 L801.8,1899.4 L804.2,1901.1 L806.7,1902.9 L809.1,1904.6 L811.6,1906.3 L814.0,1908.1 L816.5,1909.8 L818.9,1911.5 L821.4,1913.2 L823.8,1915.0 L826.3,1916.7 L828.7,1918.4 L831.2,1920.1 L833.7,1921.8 L836.1,1923.6 L838.6,1925.3 L841.0,1927.0 L843.5,1928.7 L846.0,1930.4 L848.4,1932.1 L850.9,1933.9 L853.3,1935.6 L855.8,1937.3 L858.3,1939.0 L860.7,1940.8 L863.1,1942.5 L865.6,1944.3 L868.0,1946.1 L870.4,1947.9 L872.8,1949.6 L875.2,1951.5 L877.6,1953.3 L880.0,1955.1 L882.4,1956.9 L884.8,1958.7 L887.2,1960.4 L889.6,1962.2 L892.0,1964.0 L894.5,1965.7 L896.9,1967.5 L899.3,1969.2 L901.8,1971.0 L904.3,1972.7 L906.7,1974.4 L909.2,1976.0 L911.7,1977.7 L914.2,1979.3 L916.8,1980.9 L919.3,1982.5 L921.9,1984.0 L924.5,1985.6 L927.1,1987.1 L929.6,1988.6 L932.2,1990.2 L934.7,1991.8 L937.3,1993.4 L939.8,1995.0 L942.3,1996.7 L944.8,1998.4 L947.2,2000.1 L949.7,2001.8 L952.1,2003.5 L954.6,2005.3 L957.0,2007.0 L959.5,2008.7 L962.0,2010.4 L964.5,2012.0 L967.0,2013.6 L969.6,2015.2 L972.1,2016.8 L974.7,2018.4 L977.2,2019.9 L979.8,2021.4 L982.4,2022.9 L985.0,2024.4 L987.7,2025.8 L990.3,2027.3 L993.0,2028.7 L995.6,2030.0 L998.3,2031.4 L1001.0,2032.7 L1003.7,2034.1 L1006.4,2035.4 L1009.0,2036.7 L1011.7,2038.1 L1014.4,2039.4 L1017.1,2040.8 L1019.8,2042.1 L1022.4,2043.5 L1025.1,2044.9 L1027.8,2046.2 L1030.4,2047.6 L1033.1,2049.0 L1035.8,2050.3 L1038.5,2051.6 L1041.2,2052.9 L1043.9,2054.2 L1046.6,2055.5 L1049.3,2056.8 L1052.1,2058.0 L1054.8,2059.2 L1057.6,2060.3 L1060.4,2061.4 L1063.2,2062.5 L1066.0,2063.6 L1068.8,2064.5 L1071.6,2065.5 L1074.5,2066.4 L1077.3,2067.4 L1080.2,2068.3 L1083.0,2069.3 L1085.9,2070.3 L1088.7,2071.3 L1091.5,2072.4 L1094.3,2073.4 L1097.1,2074.5 L1099.9,2075.6 L1102.7,2076.7 L1105.5,2077.8 L1108.3,2078.9 L1111.1,2080.0 L1113.9,2081.0 L1116.7,2082.1 L1119.5,2083.1 L1122.3,2084.1 L1125.2,2085.1 L1128.0,2086.1 L1130.8,2087.0 L1133.7,2087.9 L1136.5,2088.8 L1139.4,2089.7 L1142.3,2090.5 L1145.2,2091.2 L1148.1,2091.9 L1151.1,2092.5 L1154.0,2093.1 L1156.9,2093.7 L1159.9,2094.3 L1162.8,2094.9 L1165.8,2095.5 L1168.7,2096.1 L1171.6,2096.7 L1174.5,2097.4 L1177.4,2098.1 L1180.4,2098.8 L1183.3,2099.5 L1186.2,2100.1 L1189.1,2100.7 L1192.1,2101.3 L1195.0,2101.8 L1198.0,2102.3 L1200.9,2102.8 L1203.9,2103.3 L1206.8,2103.9 L1209.8,2104.4 L1212.7,2105.0 L1215.7,2105.6 L1218.6,2106.1 L1221.6,2106.7 L1224.5,2107.3 L1227.5,2107.9 L1230.4,2108.5 L1233.3,2109.1 L1236.3,2109.7 L1239.2,2110.2 L1242.2,2110.8 L1245.1,2111.4 L1248.0,2112.0 L1251.0,2112.6 L1253.9,2113.2 L1256.9,2113.8 L1259.8,2114.3 L1262.8,2114.9 L1265.7,2115.4 L1268.7,2115.8 L1271.7,2116.3 L1274.6,2116.7 L1277.6,2117.0 L1280.6,2117.4 L1283.6,2117.8 L1286.5,2118.1 L1289.5,2118.5 L1292.5,2118.8 L1295.5,2119.2 L1298.4,2119.5 L1301.4,2119.8 L1304.4,2120.0 L1307.4,2120.2 L1310.3,2120.3 L1313.2,2120.4 L1316.2,2120.5 L1319.0,2120.6 L1320.0,2120.6" fill="none" stroke="#000000" stroke-width="7" stroke-linejoin="round"/>
<path d="M282.0,2019.2 L284.9,2018.3 L287.7,2017.5 L290.6,2016.6 L293.5,2015.8 L296.4,2014.9 L299.3,2014.1 L302.2,2013.4 L305.1,2012.7 L308.0,2012.0 L310.9,2011.5 L313.9,2010.9 L316.8,2010.5 L319.8,2010.0 L322.8,2009.5 L325.7,2009.0 L328.7,2008.5 L331.6,2007.8 L334.5,2007.1 L337.3,2006.3 L340.2,2005.4 L343.0,2004.4 L345.8,2003.2 L348.5,2002.0 L351.2,2000.8 L353.9,1999.4 L356.5,1998.0 L359.0,1996.4 L361.5,1994.8 L364.0,1993.1 L366.4,1991.3 L368.7,1989.5 L371.1,1987.6 L373.4,1985.7 L375.8,1983.9 L378.1,1982.0 L380.5,1980.1 L382.8,1978.2 L385.1,1976.4 L387.5,1974.5 L389.8,1972.6 L392.1,1970.7 L394.4,1968.7 L396.7,1966.8 L398.9,1964.8 L401.1,1962.7 L403.3,1960.7 L405.4,1958.6 L407.6,1956.5 L409.7,1954.4 L411.9,1952.4 L414.1,1950.4 L416.3,1948.4 L418.5,1946.5 L420.6,1944.5 L422.7,1942.5 L424.7,1940.4 L426.6,1938.2 L428.4,1935.8 L430.1,1933.4 L431.6,1930.9 L433.2,1928.3 L434.7,1925.7 L436.1,1923.1 L437.6,1920.5 L439.1,1917.9 L440.5,1915.2 L442.0,1912.6 L443.4,1910.0 L444.8,1907.3 L446.3,1904.7 L447.7,1902.1 L449.1,1899.4 L450.5,1896.8 L451.9,1894.1 L453.2,1891.4 L454.5,1888.7 L455.8,1886.0 L457.0,1883.3 L458.2,1880.5 L459.4,1877.8 L460.6,1875.0 L461.8,1872.3 L463.0,1869.5 L464.2,1866.8 L465.4,1864.0 L466.6,1861.3 L467.8,1858.5 L469.0,1855.8 L470.2,1853.0 L471.4,1850.3 L472.6,1847.5 L473.8,1844.8 L475.0,1842.0 L476.2,1839.3 L477.4,1836.5 L478.6,1833.8 L479.8,1831.0 L481.0,1828.3 L482.2,1825.5 L483.4,1822.8 L484.5,1820.0 L485.7,1817.2 L486.9,1814.5 L488.1,1811.7 L489.2,1809.0 L490.4,1806.2 L491.6,1803.4 L492.7,1800.7 L493.9,1797.9 L495.1,1795.1 L496.2,1792.4 L497.4,1789.6 L498.6,1786.9 L499.7,1784.1 L500.9,1781.3 L502.0,1778.5 L503.2,1775.8 L504.3,1773.0 L505.5,1770.2 L506.7,1767.5 L507.8,1764.7 L509.0,1761.9 L510.1,1759.2 L511.2,1756.4 L512.4,1753.6 L513.5,1750.8 L514.7,1748.1 L515.8,1745.3 L516.9,1742.5 L518.1,1739.7 L519.2,1737.0 L520.3,1734.2 L521.4,1731.4 L522.6,1728.6 L523.7,1725.8 L524.8,1723.0 L525.9,1720.3 L527.0,1717.5 L528.1,1714.7 L529.2,1711.9 L530.3,1709.1 L531.4,1706.3 L532.5,1703.5 L533.6,1700.7 L534.7,1697.9 L535.8,1695.1 L536.9,1692.3 L537.9,1689.5 L539.0,1686.7 L540.1,1683.9 L541.1,1681.1 L542.2,1678.3 L543.2,1675.5 L544.3,1672.7 L545.3,1669.9 L546.3,1667.0 L547.4,1664.2 L548.5,1661.4 L549.5,1658.6 L550.6,1655.8 L551.7,1653.1 L552.9,1650.3 L554.1,1647.5 L555.3,1644.8 L556.5,1642.1 L557.8,1639.4 L559.0,1636.6 L560.2,1633.9 L561.4,1631.1 L562.6,1628.4 L563.7,1625.6 L564.8,1622.8 L565.9,1620.0 L567.1,1617.2 L568.2,1614.5 L569.4,1611.7 L570.7,1609.0 L571.9,1606.3 L573.2,1603.5 L574.5,1600.8 L575.8,1598.2 L577.1,1595.5 L578.5,1592.8 L579.9,1590.1 L581.2,1587.5 L582.6,1584.8 L584.0,1582.1 L585.4,1579.5 L586.9,1576.9 L588.3,1574.2 L589.8,1571.6 L591.2,1569.0 L592.7,1566.4 L594.3,1563.8 L595.8,1561.2 L597.3,1558.7 L598.8,1556.1 L600.3,1553.5 L601.8,1550.9 L603.2,1548.3 L604.7,1545.6 L606.1,1543.0 L607.7,1540.5 L609.3,1538.0 L611.0,1535.6 L612.8,1533.2 L614.7,1530.9 L616.6,1528.6 L618.6,1526.4 L620.6,1524.1 L622.7,1522.0 L624.8,1519.8 L626.9,1517.7 L629.1,1515.7 L631.3,1513.7 L633.6,1511.8 L636.0,1510.0 L638.5,1508.3 L641.0,1506.7 L643.6,1505.2 L646.2,1503.8 L648.9,1502.4 L651.6,1501.1 L654.3,1499.9 L657.1,1498.7 L659.8,1497.6 L662.6,1496.5 L665.4,1495.4 L668.2,1494.4 L671.0,1493.4 L673.9,1492.5 L676.8,1491.7 L679.7,1491.0 L682.6,1490.5 L685.5,1490.1 L688.5,1489.9 L691.5,1489.8 L694.4,1489.9 L697.3,1490.3 L700.2,1490.8 L703.0,1491.6 L705.7,1492.6 L708.4,1493.8 L711.0,1495.2 L713.5,1496.8 L716.0,1498.4 L718.4,1500.2 L720.8,1502.0 L723.2,1503.8 L725.6,1505.7 L727.9,1507.5 L730.2,1509.4 L732.6,1511.3 L734.9,1513.2 L737.2,1515.1 L739.6,1517.0 L741.9,1518.9 L744.1,1520.8 L746.4,1522.8 L748.6,1524.8 L750.9,1526.8 L753.0,1528.9 L755.2,1531.0 L757.3,1533.1 L759.4,1535.2 L761.5,1537.4 L763.5,1539.6 L765.5,1541.9 L767.4,1544.2 L769.3,1546.5 L771.2,1548.8 L773.1,1551.1 L774.9,1553.5 L776.8,1555.9 L778.6,1558.3 L780.4,1560.7 L782.2,1563.1 L783.9,1565.5 L785.7,1567.9 L787.5,1570.3 L789.2,1572.8 L791.0,1575.2 L792.7,1577.7 L794.4,1580.1 L796.1,1582.6 L797.8,1585.1 L799.5,1587.5 L801.2,1590.0 L802.8,1592.5 L804.5,1595.1 L806.0,1597.6 L807.5,1600.2 L809.0,1602.8 L810.4,1605.5 L811.7,1608.1 L813.1,1610.8 L814.5,1613.5 L815.8,1616.1 L817.3,1618.8 L818.7,1621.4 L820.3,1623.9 L821.8,1626.5 L823.4,1629.1 L825.0,1631.6 L826.6,1634.2 L828.2,1636.7 L829.8,1639.2 L831.4,1641.8 L833.0,1644.3 L834.5,1646.9 L836.1,1649.4 L837.7,1652.0 L839.2,1654.5 L840.8,1657.1 L842.3,1659.7 L843.9,1662.3 L845.4,1664.8 L846.9,1667.4 L848.5,1670.0 L850.0,1672.6 L851.6,1675.1 L853.1,1677.7 L854.6,1680.3 L856.2,1682.9 L857.7,1685.4 L859.2,1688.0 L860.8,1690.6 L862.3,1693.2 L863.9,1695.7 L865.4,1698.3 L866.9,1700.9 L868.5,1703.5 L870.0,1706.1 L871.5,1708.6 L873.1,1711.2 L874.7,1713.7 L876.2,1716.3 L877.9,1718.8 L879.5,1721.3 L881.1,1723.8 L882.8,1726.3 L884.5,1728.8 L886.1,1731.3 L887.8,1733.8 L889.4,1736.4 L891.0,1738.9 L892.6,1741.4 L894.2,1744.0 L895.7,1746.6 L897.2,1749.1 L898.8,1751.7 L900.3,1754.3 L901.8,1756.9 L903.3,1759.5 L904.9,1762.0 L906.4,1764.6 L908.0,1767.2 L909.6,1769.7 L911.2,1772.3 L912.8,1774.8 L914.5,1777.3 L916.2,1779.7 L917.9,1782.2 L919.7,1784.6 L921.5,1787.0 L923.3,1789.4 L925.1,1791.7 L927.0,1794.1 L928.8,1796.5 L930.6,1798.9 L932.4,1801.3 L934.1,1803.8 L935.9,1806.2 L937.6,1808.6 L939.4,1811.1 L941.1,1813.5 L942.8,1816.0 L944.6,1818.4 L946.3,1820.9 L948.0,1823.3 L949.7,1825.8 L951.5,1828.2 L953.2,1830.7 L954.9,1833.1 L956.6,1835.6 L958.3,1838.1 L960.0,1840.5 L961.7,1843.0 L963.4,1845.5 L965.0,1848.0 L966.6,1850.6 L968.2,1853.1 L969.8,1855.7 L971.3,1858.2 L972.9,1860.8 L974.4,1863.4 L976.0,1865.9 L977.5,1868.5 L979.1,1871.1 L980.7,1873.6 L982.2,1876.2 L983.8,1878.7 L985.5,1881.2 L987.1,1883.7 L988.8,1886.2 L990.6,1888.6 L992.3,1891.0 L994.2,1893.4 L996.2,1895.6 L998.2,1897.8 L1000.2,1900.0 L1002.4,1902.1 L1004.5,1904.2 L1006.6,1906.3 L1008.8,1908.4 L1010.9,1910.5 L1013.0,1912.7 L1015.0,1914.9 L1017.1,1917.0 L1019.2,1919.2 L1021.2,1921.4 L1023.3,1923.6 L1025.4,1925.7 L1027.4,1927.9 L1029.5,1930.1 L1031.6,1932.2 L1033.7,1934.4 L1035.7,1936.6 L1037.8,1938.7 L1039.9,1940.9 L1042.0,1943.0 L1044.1,1945.2 L1046.2,1947.3 L1048.3,1949.5 L1050.3,1951.7 L1052.4,1953.9 L1054.4,1956.1 L1056.4,1958.3 L1058.4,1960.6 L1060.4,1962.8 L1062.4,1965.0 L1064.4,1967.2 L1066.4,1969.4 L1068.5,1971.6 L1070.5,1973.8 L1072.5,1976.0 L1074.6,1978.1 L1076.7,1980.2 L1078.9,1982.2 L1081.2,1984.0 L1083.6,1985.8 L1086.1,1987.4 L1088.7,1989.0 L1091.2,1990.5 L1093.9,1991.9 L1096.5,1993.4 L1099.1,1994.8 L1101.7,1996.3 L1104.4,1997.7 L1107.0,1999.2 L1109.6,2000.7 L1112.2,2002.2 L1114.7,2003.8 L1117.2,2005.4 L1119.7,2007.1 L1122.1,2008.8 L1124.5,2010.6 L1126.9,2012.4 L1129.3,2014.2 L1131.7,2016.1 L1134.0,2018.0 L1136.4,2019.8 L1138.7,2021.7 L1141.0,2023.6 L1143.4,2025.4 L1145.8,2027.3 L1148.2,2029.1 L1150.6,2030.9 L1153.0,2032.6 L1155.5,2034.3 L1158.0,2036.0 L1160.5,2037.6 L1163.0,2039.2 L1165.6,2040.7 L1168.3,2042.1 L1170.9,2043.5 L1173.5,2044.9 L1176.2,2046.3 L1178.9,2047.7 L1181.5,2049.1 L1184.2,2050.5 L1186.8,2051.9 L1189.5,2053.3 L1192.1,2054.7 L1194.8,2056.1 L1197.4,2057.5 L1200.1,2058.9 L1202.8,2060.2 L1205.5,2061.6 L1208.2,2062.9 L1210.8,2064.2 L1213.5,2065.5 L1216.2,2066.8 L1219.0,2068.1 L1221.7,2069.4 L1224.4,2070.6 L1227.2,2071.8 L1229.9,2073.0 L1232.7,2074.1 L1235.5,2075.3 L1238.2,2076.4 L1241.0,2077.5 L1243.8,2078.6 L1246.6,2079.7 L1249.4,2080.7 L1252.3,2081.7 L1255.1,2082.7 L1258.0,2083.6 L1260.8,2084.5 L1263.7,2085.4 L1266.6,2086.2 L1269.4,2087.1 L1272.3,2087.9 L1275.2,2088.8 L1278.1,2089.7 L1280.9,2090.5 L1283.8,2091.4 L1286.7,2092.2 L1289.6,2093.1 L1292.4,2093.9 L1295.3,2094.8 L1298.2,2095.6 L1301.1,2096.4 L1304.0,2097.1 L1306.9,2097.9 L1309.7,2098.6 L1312.6,2099.3 L1315.4,2099.9 L1318.2,2100.6 L1320.0,2101.0" fill="none" stroke="#ff0000" stroke-width="7" stroke-linejoin="round"/>
<path d="M282.0,2050.8 L284.8,2049.7 L287.6,2048.6 L290.4,2047.5 L293.2,2046.4 L296.0,2045.4 L298.8,2044.4 L301.6,2043.4 L304.5,2042.4 L307.3,2041.5 L310.2,2040.6 L313.0,2039.7 L315.9,2038.8 L318.8,2037.8 L321.6,2036.9 L324.4,2035.9 L327.2,2034.8 L330.0,2033.7 L332.8,2032.5 L335.5,2031.3 L338.2,2030.0 L340.8,2028.6 L343.4,2027.1 L345.9,2025.5 L348.3,2023.8 L350.6,2021.9 L352.8,2020.0 L355.0,2017.9 L357.0,2015.7 L359.0,2013.5 L361.0,2011.3 L363.0,2009.0 L365.0,2006.8 L367.1,2004.7 L369.2,2002.6 L371.4,2000.5 L373.6,1998.5 L375.8,1996.4 L378.0,1994.4 L380.2,1992.4 L382.4,1990.3 L384.6,1988.3 L386.8,1986.2 L388.9,1984.1 L391.1,1982.1 L393.3,1980.0 L395.4,1977.9 L397.6,1975.8 L399.7,1973.7 L401.8,1971.5 L403.8,1969.3 L405.8,1967.1 L407.7,1964.8 L409.6,1962.4 L411.4,1960.1 L413.1,1957.6 L414.8,1955.2 L416.5,1952.7 L418.1,1950.2 L419.7,1947.6 L421.1,1945.0 L422.6,1942.4 L423.9,1939.7 L425.3,1937.0 L426.6,1934.3 L427.8,1931.6 L429.1,1928.9 L430.4,1926.2 L431.6,1923.4 L432.9,1920.7 L434.1,1918.0 L435.4,1915.3 L436.7,1912.6 L438.0,1909.9 L439.3,1907.2 L440.6,1904.5 L441.9,1901.8 L443.2,1899.1 L444.5,1896.3 L445.7,1893.6 L446.9,1890.9 L448.1,1888.1 L449.3,1885.3 L450.4,1882.6 L451.6,1879.8 L452.7,1877.0 L453.8,1874.2 L454.9,1871.5 L456.1,1868.7 L457.2,1865.9 L458.3,1863.1 L459.4,1860.3 L460.5,1857.5 L461.6,1854.7 L462.6,1851.9 L463.7,1849.1 L464.8,1846.3 L465.9,1843.5 L467.0,1840.7 L468.0,1837.9 L469.1,1835.1 L470.1,1832.3 L471.2,1829.5 L472.2,1826.7 L473.2,1823.8 L474.2,1821.0 L475.2,1818.2 L476.2,1815.4 L477.2,1812.5 L478.2,1809.7 L479.2,1806.9 L480.2,1804.0 L481.2,1801.2 L482.1,1798.4 L483.1,1795.5 L484.1,1792.7 L485.0,1789.8 L486.0,1787.0 L487.0,1784.2 L487.9,1781.3 L488.9,1778.5 L489.9,1775.6 L490.8,1772.8 L491.8,1770.0 L492.8,1767.1 L493.7,1764.3 L494.7,1761.4 L495.6,1758.6 L496.6,1755.7 L497.5,1752.9 L498.5,1750.0 L499.4,1747.2 L500.4,1744.4 L501.4,1741.5 L502.3,1738.7 L503.3,1735.8 L504.2,1733.0 L505.2,1730.1 L506.2,1727.3 L507.1,1724.5 L508.1,1721.6 L509.0,1718.8 L510.0,1715.9 L510.9,1713.1 L511.9,1710.2 L512.9,1707.4 L513.8,1704.6 L514.8,1701.7 L515.7,1698.9 L516.7,1696.0 L517.6,1693.2 L518.6,1690.3 L519.6,1687.5 L520.5,1684.7 L521.5,1681.8 L522.4,1679.0 L523.4,1676.1 L524.3,1673.3 L525.3,1670.4 L526.2,1667.6 L527.2,1664.8 L528.2,1661.9 L529.1,1659.1 L530.1,1656.2 L531.1,1653.4 L532.0,1650.6 L533.0,1647.7 L534.0,1644.9 L535.0,1642.1 L536.0,1639.2 L537.0,1636.4 L538.0,1633.6 L539.0,1630.8 L540.0,1627.9 L541.0,1625.1 L541.9,1622.2 L542.9,1619.4 L543.8,1616.5 L544.7,1613.7 L545.7,1610.8 L546.7,1608.0 L547.6,1605.2 L548.6,1602.3 L549.7,1599.5 L550.7,1596.7 L551.8,1593.9 L552.9,1591.1 L554.0,1588.3 L555.1,1585.6 L556.3,1582.8 L557.4,1580.0 L558.5,1577.2 L559.6,1574.4 L560.7,1571.6 L561.8,1568.9 L562.9,1566.1 L564.0,1563.3 L565.1,1560.5 L566.2,1557.7 L567.2,1554.9 L568.3,1552.0 L569.3,1549.2 L570.4,1546.4 L571.4,1543.6 L572.5,1540.8 L573.6,1538.0 L574.6,1535.2 L575.7,1532.4 L576.8,1529.6 L577.8,1526.8 L578.9,1524.0 L580.0,1521.2 L581.1,1518.4 L582.2,1515.6 L583.4,1512.9 L584.5,1510.1 L585.7,1507.3 L586.9,1504.6 L588.1,1501.8 L589.4,1499.1 L590.7,1496.4 L592.0,1493.7 L593.3,1491.0 L594.6,1488.3 L596.0,1485.7 L597.4,1483.0 L598.7,1480.3 L600.1,1477.6 L601.4,1475.0 L602.8,1472.3 L604.1,1469.6 L605.4,1466.9 L606.8,1464.2 L608.1,1461.5 L609.5,1458.9 L610.9,1456.2 L612.3,1453.6 L613.8,1451.0 L615.4,1448.5 L617.0,1445.9 L618.7,1443.4 L620.4,1441.0 L622.1,1438.5 L623.9,1436.1 L625.7,1433.7 L627.5,1431.3 L629.4,1429.0 L631.3,1426.7 L633.2,1424.4 L635.2,1422.1 L637.2,1419.9 L639.2,1417.7 L641.3,1415.5 L643.4,1413.4 L645.5,1411.3 L647.7,1409.3 L650.0,1407.4 L652.4,1405.5 L654.8,1403.9 L657.3,1402.3 L660.0,1401.0 L662.7,1399.8 L665.4,1398.8 L668.3,1398.1 L671.1,1397.6 L674.0,1397.3 L677.0,1397.2 L679.9,1397.4 L682.9,1397.7 L685.8,1398.2 L688.7,1398.7 L691.7,1399.3 L694.6,1400.0 L697.4,1400.7 L700.3,1401.6 L703.0,1402.7 L705.7,1403.9 L708.3,1405.2 L710.9,1406.7 L713.4,1408.4 L715.8,1410.1 L718.3,1411.9 L720.6,1413.7 L723.0,1415.5 L725.3,1417.5 L727.6,1419.4 L729.8,1421.4 L732.0,1423.4 L734.2,1425.5 L736.3,1427.6 L738.4,1429.7 L740.5,1431.9 L742.5,1434.1 L744.4,1436.4 L746.3,1438.7 L748.2,1441.1 L750.0,1443.4 L751.8,1445.8 L753.6,1448.2 L755.4,1450.6 L757.2,1453.1 L759.0,1455.5 L760.7,1457.9 L762.5,1460.3 L764.2,1462.8 L765.9,1465.2 L767.7,1467.7 L769.4,1470.2 L771.1,1472.6 L772.8,1475.1 L774.4,1477.6 L776.1,1480.1 L777.7,1482.6 L779.4,1485.1 L781.0,1487.6 L782.6,1490.2 L784.1,1492.7 L785.7,1495.3 L787.2,1497.9 L788.8,1500.5 L790.3,1503.1 L791.8,1505.6 L793.3,1508.2 L794.8,1510.8 L796.4,1513.4 L797.9,1516.0 L799.4,1518.6 L800.9,1521.1 L802.5,1523.7 L804.0,1526.3 L805.5,1528.9 L806.9,1531.5 L808.4,1534.2 L809.8,1536.8 L811.3,1539.4 L812.7,1542.1 L814.1,1544.7 L815.4,1547.4 L816.8,1550.1 L818.2,1552.7 L819.6,1555.4 L820.9,1558.1 L822.3,1560.8 L823.6,1563.4 L824.9,1566.1 L826.3,1568.8 L827.6,1571.5 L828.9,1574.2 L830.3,1576.9 L831.6,1579.6 L833.0,1582.2 L834.3,1584.9 L835.7,1587.6 L837.1,1590.2 L838.5,1592.9 L840.0,1595.5 L841.4,1598.1 L842.8,1600.8 L844.3,1603.4 L845.8,1606.0 L847.2,1608.6 L848.7,1611.3 L850.1,1613.9 L851.5,1616.5 L853.0,1619.2 L854.4,1621.8 L855.8,1624.5 L857.2,1627.1 L858.6,1629.8 L860.0,1632.4 L861.3,1635.1 L862.7,1637.8 L864.1,1640.4 L865.5,1643.1 L866.9,1645.7 L868.3,1648.4 L869.7,1651.1 L871.1,1653.7 L872.4,1656.4 L873.8,1659.0 L875.2,1661.7 L876.6,1664.3 L878.0,1667.0 L879.4,1669.6 L880.9,1672.3 L882.3,1674.9 L883.7,1677.6 L885.2,1680.2 L886.6,1682.8 L888.1,1685.4 L889.5,1688.1 L891.0,1690.7 L892.5,1693.3 L894.1,1695.8 L895.6,1698.4 L897.1,1701.0 L898.7,1703.5 L900.3,1706.1 L901.9,1708.6 L903.4,1711.2 L905.0,1713.8 L906.5,1716.4 L908.0,1718.9 L909.6,1721.5 L911.1,1724.1 L912.6,1726.7 L914.1,1729.3 L915.6,1731.9 L917.2,1734.4 L918.7,1737.0 L920.2,1739.6 L921.7,1742.2 L923.3,1744.8 L924.8,1747.4 L926.3,1750.0 L927.8,1752.6 L929.2,1755.2 L930.7,1757.8 L932.2,1760.4 L933.6,1763.1 L935.0,1765.7 L936.5,1768.3 L937.9,1770.9 L939.4,1773.6 L940.9,1776.2 L942.3,1778.8 L943.8,1781.4 L945.3,1784.0 L946.8,1786.6 L948.3,1789.2 L949.8,1791.8 L951.4,1794.3 L953.0,1796.9 L954.6,1799.4 L956.2,1802.0 L957.9,1804.4 L959.5,1806.9 L961.3,1809.4 L963.0,1811.8 L964.8,1814.2 L966.6,1816.6 L968.4,1819.0 L970.2,1821.4 L972.0,1823.8 L973.9,1826.2 L975.7,1828.6 L977.5,1830.9 L979.3,1833.3 L981.2,1835.7 L983.0,1838.1 L984.8,1840.4 L986.6,1842.8 L988.5,1845.2 L990.3,1847.6 L992.0,1850.0 L993.8,1852.5 L995.6,1854.9 L997.3,1857.3 L999.0,1859.8 L1000.8,1862.2 L1002.5,1864.6 L1004.3,1867.1 L1006.1,1869.5 L1008.0,1871.8 L1009.8,1874.2 L1011.7,1876.5 L1013.6,1878.8 L1015.5,1881.2 L1017.4,1883.5 L1019.3,1885.8 L1021.2,1888.2 L1023.0,1890.5 L1024.9,1892.9 L1026.7,1895.2 L1028.6,1897.6 L1030.4,1899.9 L1032.3,1902.3 L1034.2,1904.6 L1036.1,1906.9 L1038.0,1909.2 L1040.0,1911.5 L1041.9,1913.8 L1043.8,1916.1 L1045.7,1918.4 L1047.6,1920.7 L1049.6,1923.1 L1051.5,1925.3 L1053.4,1927.6 L1055.4,1929.9 L1057.3,1932.2 L1059.3,1934.5 L1061.2,1936.7 L1063.2,1939.0 L1065.1,1941.3 L1067.1,1943.6 L1069.0,1945.9 L1070.9,1948.2 L1072.8,1950.5 L1074.7,1952.9 L1076.5,1955.2 L1078.4,1957.6 L1080.2,1959.9 L1082.2,1962.2 L1084.2,1964.4 L1086.2,1966.6 L1088.3,1968.7 L1090.5,1970.8 L1092.6,1972.9 L1094.8,1974.9 L1097.1,1976.9 L1099.3,1978.9 L1101.6,1980.8 L1103.9,1982.7 L1106.2,1984.7 L1108.6,1986.5 L1110.9,1988.4 L1113.2,1990.3 L1115.6,1992.2 L1117.9,1994.0 L1120.3,1995.9 L1122.6,1997.8 L1125.0,1999.6 L1127.3,2001.5 L1129.7,2003.3 L1132.1,2005.1 L1134.5,2006.9 L1136.9,2008.7 L1139.4,2010.4 L1141.8,2012.2 L1144.3,2013.9 L1146.7,2015.6 L1149.2,2017.3 L1151.6,2019.0 L1154.1,2020.7 L1156.6,2022.4 L1159.1,2024.1 L1161.6,2025.7 L1164.2,2027.2 L1166.8,2028.6 L1169.5,2030.0 L1172.2,2031.3 L1174.9,2032.5 L1177.6,2033.7 L1180.3,2035.0 L1183.0,2036.3 L1185.7,2037.7 L1188.3,2039.1 L1190.9,2040.6 L1193.5,2042.1 L1196.0,2043.7 L1198.6,2045.2 L1201.2,2046.7 L1203.8,2048.3 L1206.3,2049.8 L1208.9,2051.4 L1211.5,2052.9 L1214.0,2054.5 L1216.6,2056.1 L1219.1,2057.7 L1221.6,2059.3 L1224.2,2060.9 L1226.7,2062.5 L1229.3,2064.0 L1231.9,2065.5 L1234.5,2067.0 L1237.2,2068.3 L1239.8,2069.7 L1242.6,2070.9 L1245.3,2072.0 L1248.1,2073.1 L1251.0,2074.0 L1253.8,2074.9 L1256.7,2075.7 L1259.6,2076.4 L1262.5,2077.1 L1265.4,2077.9 L1268.3,2078.6 L1271.2,2079.4 L1274.1,2080.2 L1277.0,2081.0 L1279.9,2081.8 L1282.7,2082.6 L1285.6,2083.5 L1288.4,2084.5 L1291.3,2085.4 L1294.1,2086.5 L1296.9,2087.6 L1299.7,2088.6 L1302.5,2089.7 L1305.3,2090.8 L1308.0,2091.8 L1310.8,2092.7 L1313.6,2093.6 L1316.3,2094.4 L1319.1,2095.2 L1320.0,2095.5" fill="none" stroke="#0000ff" stroke-width="7" stroke-linejoin="round"/>
</g>
<line x1="282" y1="1303" x2="1317.5" y2="1303" stroke="#000" stroke-width="2"/>
<line x1="1317.5" y1="1302" x2="1317.5" y2="2138" stroke="#000" stroke-width="1.2"/>
<line x1="282" y1="1301" x2="282" y2="2140" stroke="#000" stroke-width="4"/>
<line x1="280" y1="2138" x2="1319.0" y2="2138" stroke="#000" stroke-width="4"/>
<line x1="266" y1="2138.50" x2="282" y2="2138.50" stroke="#000" stroke-width="4" stroke-linecap="round"/>
<line x1="266" y1="2006.57" x2="282" y2="2006.57" stroke="#000" stroke-width="4" stroke-linecap="round"/>
<line x1="266" y1="1874.63" x2="282" y2="1874.63" stroke="#000" stroke-width="4" stroke-linecap="round"/>
<line x1="266" y1="1742.70" x2="282" y2="1742.70" stroke="#000" stroke-width="4" stroke-linecap="round"/>
<line x1="266" y1="1610.77" x2="282" y2="1610.77" stroke="#000" stroke-width="4" stroke-linecap="round"/>
<line x1="266" y1="1478.83" x2="282" y2="1478.83" stroke="#000" stroke-width="4" stroke-linecap="round"/>
<line x1="266" y1="1346.90" x2="282" y2="1346.90" stroke="#000" stroke-width="4" stroke-linecap="round"/>
<line x1="274" y1="2072.53" x2="282" y2="2072.53" stroke="#000" stroke-width="4" stroke-linecap="round"/>
<line x1="274" y1="1940.60" x2="282" y2="1940.60" stroke="#000" stroke-width="4" stroke-linecap="round"/>
<line x1="274" y1="1808.67" x2="282" y2="1808.67" stroke="#000" stroke-width="4" stroke-linecap="round"/>
<line x1="274" y1="1676.73" x2="282" y2="1676.73" stroke="#000" stroke-width="4" stroke-linecap="round"/>
<line x1="274" y1="1544.80" x2="282" y2="1544.80" stroke="#000" stroke-width="4" stroke-linecap="round"/>
<line x1="274" y1="1412.87" x2="282" y2="1412.87" stroke="#000" stroke-width="4" stroke-linecap="round"/>
<line x1="323.40" y1="2138" x2="323.40" y2="2154" stroke="#000" stroke-width="4" stroke-linecap="round"/>
<line x1="522.10" y1="2138" x2="522.10" y2="2154" stroke="#000" stroke-width="4" stroke-linecap="round"/>
<line x1="720.80" y1="2138" x2="720.80" y2="2154" stroke="#000" stroke-width="4" stroke-linecap="round"/>
<line x1="919.50" y1="2138" x2="919.50" y2="2154" stroke="#000" stroke-width="4" stroke-linecap="round"/>
<line x1="1118.20" y1="2138" x2="1118.20" y2="2154" stroke="#000" stroke-width="4" stroke-linecap="round"/>
<line x1="1316.90" y1="2138" x2="1316.90" y2="2154" stroke="#000" stroke-width="4" stroke-linecap="round"/>
<line x1="422.75" y1="2138" x2="422.75" y2="2146" stroke="#000" stroke-width="4" stroke-linecap="round"/>
<line x1="621.45" y1="2138" x2="621.45" y2="2146" stroke="#000" stroke-width="4" stroke-linecap="round"/>
<line x1="820.15" y1="2138" x2="820.15" y2="2146" stroke="#000" stroke-width="4" stroke-linecap="round"/>
<line x1="1018.85" y1="2138" x2="1018.85" y2="2146" stroke="#000" stroke-width="4" stroke-linecap="round"/>
<line x1="1217.55" y1="2138" x2="1217.55" y2="2146" stroke="#000" stroke-width="4" stroke-linecap="round"/>
<line x1="303.5" y1="1410.4" x2="417.5" y2="1410.4" stroke="#000" stroke-width="7" stroke-linecap="round"/>
<line x1="303.5" y1="1475.2" x2="417.5" y2="1475.2" stroke="#ff0000" stroke-width="7" stroke-linecap="round"/>
<line x1="303.5" y1="1540.0" x2="417.5" y2="1540.0" stroke="#0000ff" stroke-width="7" stroke-linecap="round"/>
<g filter="url(#gs)">
<text transform="translate(241.80,722.70) scale(1,1.03)" font-size="39" text-anchor="end" font-family="Liberation Sans, sans-serif">1x10</text>
<text transform="translate(255.00,704.80)" font-size="23" text-anchor="end" font-family="Liberation Sans, sans-serif">6</text>
<text transform="translate(241.80,555.70) scale(1,1.03)" font-size="39" text-anchor="end" font-family="Liberation Sans, sans-serif">2x10</text>
<text transform="translate(255.00,537.80)" font-size="23" text-anchor="end" font-family="Liberation Sans, sans-serif">6</text>
<text transform="translate(241.80,388.70) scale(1,1.03)" font-size="39" text-anchor="end" font-family="Liberation Sans, sans-serif">3x10</text>
<text transform="translate(255.00,370.80)" font-size="23" text-anchor="end" font-family="Liberation Sans, sans-serif">6</text>
<text transform="translate(241.80,221.70) scale(1,1.03)" font-size="39" text-anchor="end" font-family="Liberation Sans, sans-serif">4x10</text>
<text transform="translate(255.00,203.80)" font-size="23" text-anchor="end" font-family="Liberation Sans, sans-serif">6</text>
<text transform="translate(241.80,54.70) scale(1,1.03)" font-size="39" text-anchor="end" font-family="Liberation Sans, sans-serif">5x10</text>
<text transform="translate(255.00,36.80)" font-size="23" text-anchor="end" font-family="Liberation Sans, sans-serif">6</text>
<text transform="translate(254.60,887.60) scale(1,1.035)" font-size="39" text-anchor="end" font-family="Liberation Sans, sans-serif">0</text>
<text transform="translate(281.05,935.00) scale(1,1.03)" font-size="39" text-anchor="middle" font-family="Liberation Sans, sans-serif">350</text>
<text transform="translate(473.00,935.00) scale(1,1.03)" font-size="39" text-anchor="middle" font-family="Liberation Sans, sans-serif">400</text>
<text transform="translate(664.95,935.00) scale(1,1.03)" font-size="39" text-anchor="middle" font-family="Liberation Sans, sans-serif">450</text>
<text transform="translate(856.90,935.00) scale(1,1.03)" font-size="39" text-anchor="middle" font-family="Liberation Sans, sans-serif">500</text>
<text transform="translate(1048.85,935.00) scale(1,1.03)" font-size="39" text-anchor="middle" font-family="Liberation Sans, sans-serif">550</text>
<text transform="translate(1240.80,935.00) scale(1,1.03)" font-size="39" text-anchor="middle" font-family="Liberation Sans, sans-serif">600</text>
<text transform="translate(798.50,1014.00) scale(1,1.05)" font-size="55.2" font-weight="bold" text-anchor="middle" font-family="Liberation Sans, sans-serif">Wavelength (nm)</text>
<text transform="translate(104.80,440.70) rotate(-90) scale(1,1.03)" font-size="55.2" font-weight="bold" text-anchor="middle" font-family="Liberation Sans, sans-serif">PL Intensity (a.u.)</text>
<text transform="translate(301.60,92.70) scale(1,1.06)" font-size="50.2" font-weight="bold" font-family="Liberation Sans, sans-serif">QP:BK11</text>
<text transform="translate(432.50,154.80) scale(1,1.04)" font-size="50.7" font-weight="bold" font-family="Liberation Sans, sans-serif">1:0.25</text>
<text transform="translate(432.50,219.80) scale(1,1.04)" font-size="50.7" font-weight="bold" font-family="Liberation Sans, sans-serif">1:0.5</text>
<text transform="translate(432.50,284.80) scale(1,1.04)" font-size="50.7" font-weight="bold" font-family="Liberation Sans, sans-serif">1:1</text>
<text transform="translate(1310.50,99.10) scale(1,1.03)" font-size="51.5" font-weight="bold" text-anchor="end" font-family="Liberation Sans, sans-serif">1 week after</text>
<text transform="translate(770,1147.3) scale(0.925,1)" font-size="74.75" text-anchor="middle" font-family="Liberation Serif, serif">(<tspan font-weight="bold">a</tspan>)</text>
<text transform="translate(254.60,2150.10) scale(1,1.03)" font-size="39" text-anchor="end" font-family="Liberation Sans, sans-serif">0.0</text>
<text transform="translate(241.80,2020.27) scale(1,1.03)" font-size="39" text-anchor="end" font-family="Liberation Sans, sans-serif">3.0x10</text>
<text transform="translate(255.00,2002.37)" font-size="23" text-anchor="end" font-family="Liberation Sans, sans-serif">5</text>
<text transform="translate(241.80,1888.33) scale(1,1.03)" font-size="39" text-anchor="end" font-family="Liberation Sans, sans-serif">6.0x10</text>
<text transform="translate(255.00,1870.43)" font-size="23" text-anchor="end" font-family="Liberation Sans, sans-serif">5</text>
<text transform="translate(241.80,1756.40) scale(1,1.03)" font-size="39" text-anchor="end" font-family="Liberation Sans, sans-serif">9.0x10</text>
<text transform="translate(255.00,1738.50)" font-size="23" text-anchor="end" font-family="Liberation Sans, sans-serif">5</text>
<text transform="translate(241.80,1624.47) scale(1,1.03)" font-size="39" text-anchor="end" font-family="Liberation Sans, sans-serif">1.2x10</text>
<text transform="translate(255.00,1606.57)" font-size="23" text-anchor="end" font-family="Liberation Sans, sans-serif">6</text>
<text transform="translate(241.80,1492.53) scale(1,1.03)" font-size="39" text-anchor="end" font-family="Liberation Sans, sans-serif">1.5x10</text>
<text transform="translate(255.00,1474.63)" font-size="23" text-anchor="end" font-family="Liberation Sans, sans-serif">6</text>
<text transform="translate(241.80,1360.60) scale(1,1.03)" font-size="39" text-anchor="end" font-family="Liberation Sans, sans-serif">1.8x10</text>
<text transform="translate(255.00,1342.70)" font-size="23" text-anchor="end" font-family="Liberation Sans, sans-serif">6</text>
<text transform="translate(323.40,2195.20) scale(1,1.03)" font-size="39" text-anchor="middle" font-family="Liberation Sans, sans-serif">400</text>
<text transform="translate(522.10,2195.20) scale(1,1.03)" font-size="39" text-anchor="middle" font-family="Liberation Sans, sans-serif">450</text>
<text transform="translate(720.80,2195.20) scale(1,1.03)" font-size="39" text-anchor="middle" font-family="Liberation Sans, sans-serif">500</text>
<text transform="translate(919.50,2195.20) scale(1,1.03)" font-size="39" text-anchor="middle" font-family="Liberation Sans, sans-serif">550</text>
<text transform="translate(1118.20,2195.20) scale(1,1.03)" font-size="39" text-anchor="middle" font-family="Liberation Sans, sans-serif">600</text>
<text transform="translate(1316.90,2195.20) scale(1,1.03)" font-size="39" text-anchor="middle" font-family="Liberation Sans, sans-serif">650</text>
<text transform="translate(798.50,2274.20) scale(1,1.05)" font-size="55.2" font-weight="bold" text-anchor="middle" font-family="Liberation Sans, sans-serif">Wavelength (nm)</text>
<text transform="translate(72.60,1701.50) rotate(-90) scale(1,1.03)" font-size="55.2" font-weight="bold" text-anchor="middle" font-family="Liberation Sans, sans-serif">PL Intensity (a.u.)</text>
<text transform="translate(301.60,1365.90) scale(1,1.06)" font-size="50.2" font-weight="bold" font-family="Liberation Sans, sans-serif">QP:BK11</text>
<text transform="translate(432.50,1427.80) scale(1,1.04)" font-size="50.7" font-weight="bold" font-family="Liberation Sans, sans-serif">1:0.25</text>
<text transform="translate(432.50,1492.60) scale(1,1.04)" font-size="50.7" font-weight="bold" font-family="Liberation Sans, sans-serif">1:0.5</text>
<text transform="translate(432.50,1557.40) scale(1,1.04)" font-size="50.7" font-weight="bold" font-family="Liberation Sans, sans-serif">1:1</text>
<text transform="translate(1304.20,1369.80) scale(1,1.03)" font-size="51.5" font-weight="bold" text-anchor="end" font-family="Liberation Sans, sans-serif">1week after</text>
<text transform="translate(770,2409.5) scale(0.973,1)" font-size="74.75" text-anchor="middle" font-family="Liberation Serif, serif">(<tspan font-weight="bold">b</tspan>)</text>
</g>
</svg></body></html>
